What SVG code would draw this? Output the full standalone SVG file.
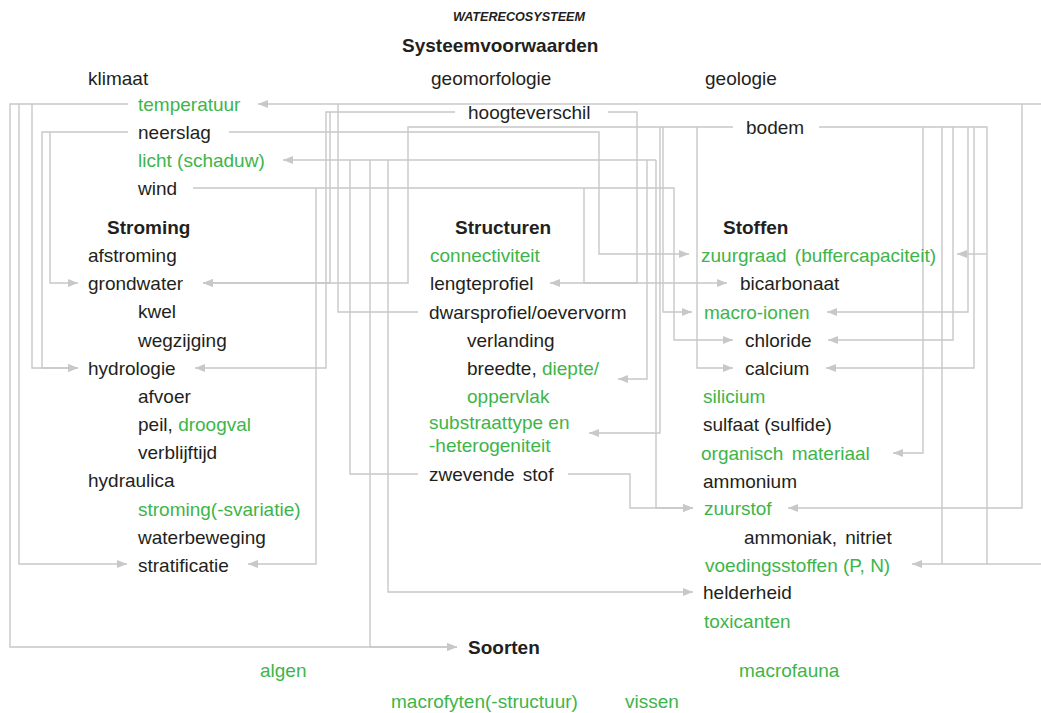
<svg xmlns="http://www.w3.org/2000/svg" width="1041" height="713" viewBox="0 0 1041 713">
<style>
text{font-family:"Liberation Sans",Arial,sans-serif;font-size:19px;fill:#231f20}
.g{fill:#3db54a}
.b{font-weight:bold}
.c path{fill:none;stroke:#c8c8c8;stroke-width:1.4}
</style>
<defs>
<marker id="a" markerUnits="userSpaceOnUse" markerWidth="10" markerHeight="8" refX="10" refY="4" orient="auto">
<path d="M0,0 L10,4 L0,8 z" fill="#c8c8c8"/>
</marker>
</defs>
<rect width="1041" height="713" fill="#fff"/>
<g class="c" id="connectors">
<path d="M128,104 H10 V647 H457" marker-end="url(#a)"/>
<path d="M19,104 V564 H127" marker-end="url(#a)"/>
<path d="M32,104 V368 H78" marker-end="url(#a)"/>
<path d="M1041,104 H258" marker-end="url(#a)"/>
<path d="M338,104 V312 H418"/>
<path d="M1022,104 V508 H788" marker-end="url(#a)"/>
<path d="M128,132 H42 V368 H78" marker-end="url(#a)"/>
<path d="M50,132 V283 H78" marker-end="url(#a)"/>
<path d="M229,132 H599 V254 H689" marker-end="url(#a)"/>
<path d="M656,160 H283" marker-end="url(#a)"/>
<path d="M350,160 V474 H418"/>
<path d="M370,160 V647 H457" marker-end="url(#a)"/>
<path d="M388,160 V592 H693" marker-end="url(#a)"/>
<path d="M647,160 V379 H618" marker-end="url(#a)"/>
<path d="M656,160 V508 H693" marker-end="url(#a)"/>
<path d="M193,188 H674 V340 H733" marker-end="url(#a)"/>
<path d="M316,188 V564 H248" marker-end="url(#a)"/>
<path d="M584,188 V283 H727" marker-end="url(#a)"/>
<path d="M455,112 H326 V368 H195" marker-end="url(#a)"/>
<path d="M330,112 V283 H203" marker-end="url(#a)"/>
<path d="M608,112 H637 V283 H550" marker-end="url(#a)"/>
<path d="M733,127 H408 V283 H203" marker-end="url(#a)"/>
<path d="M663,127 V312 H692" marker-end="url(#a)"/>
<path d="M660,127 V433 H589" marker-end="url(#a)"/>
<path d="M697,127 V368 H733" marker-end="url(#a)"/>
<path d="M819,127 H987 V564 H912" marker-end="url(#a)"/>
<path d="M987,254 H957" marker-end="url(#a)"/>
<path d="M968,127 V312 H827" marker-end="url(#a)"/>
<path d="M953,127 V340 H828" marker-end="url(#a)"/>
<path d="M974,127 V368 H826" marker-end="url(#a)"/>
<path d="M923,127 V453 H893" marker-end="url(#a)"/>
<path d="M942,127 V564"/>
<path d="M1041,564 H987"/>
<path d="M568,474 H630 V508 H693" marker-end="url(#a)"/>
</g>
<g id="title"><text x="453" y="21" class="b" style="font-size:12.6px;font-style:italic">WATERECOSYSTEEM</text></g>
<g id="systeemvoorwaarden"><text x="402" y="52" class="b">Systeemvoorwaarden</text></g>
<g id="klimaat"><text x="88" y="85">klimaat</text></g>
<g id="geomorfologie"><text x="431" y="85">geomorfologie</text></g>
<g id="geologie"><text x="705" y="85">geologie</text></g>
<g id="temperatuur"><text x="138" y="111" class="g">temperatuur</text></g>
<g id="hoogteverschil"><text x="468" y="119">hoogteverschil</text></g>
<g id="neerslag"><text x="138" y="139">neerslag</text></g>
<g id="bodem"><text x="746" y="134">bodem</text></g>
<g id="licht"><text x="138" y="167" class="g">licht (schaduw)</text></g>
<g id="wind"><text x="138" y="195">wind</text></g>
<g id="stroming"><text x="107" y="234" class="b">Stroming</text></g>
<g id="structuren"><text x="455" y="234" class="b">Structuren</text></g>
<g id="stoffen"><text x="723" y="234" class="b">Stoffen</text></g>
<g id="afstroming"><text x="88" y="262">afstroming</text></g>
<g id="connectiviteit"><text x="430" y="262" class="g">connectiviteit</text></g>
<g id="zuurgraad"><text x="701" y="262" class="g" style="word-spacing:3px">zuurgraad (buffercapaciteit)</text></g>
<g id="grondwater"><text x="88" y="290">grondwater</text></g>
<g id="lengteprofiel"><text x="430" y="290">lengteprofiel</text></g>
<g id="bicarbonaat"><text x="740" y="290">bicarbonaat</text></g>
<g id="kwel"><text x="138" y="318">kwel</text></g>
<g id="dwarsprofiel"><text x="429" y="319">dwarsprofiel/oevervorm</text></g>
<g id="macro-ionen"><text x="704" y="319" class="g">macro-ionen</text></g>
<g id="wegzijging"><text x="138" y="347">wegzijging</text></g>
<g id="verlanding"><text x="467" y="347">verlanding</text></g>
<g id="chloride"><text x="745" y="347">chloride</text></g>
<g id="hydrologie"><text x="88" y="375">hydrologie</text></g>
<g id="breedte"><text x="467" y="375">breedte, <tspan class="g">diepte/</tspan></text><text x="467" y="403" class="g">oppervlak</text></g>
<g id="calcium"><text x="745" y="375">calcium</text></g>
<g id="afvoer"><text x="138" y="403">afvoer</text></g>
<g id="silicium"><text x="703" y="403" class="g">silicium</text></g>
<g id="peil"><text x="138" y="431">peil, <tspan class="g">droogval</tspan></text></g>
<g id="substraattype"><text x="429" y="429" class="g">substraattype en</text><text x="429" y="452" class="g">-heterogeniteit</text></g>
<g id="sulfaat"><text x="703" y="431">sulfaat (sulfide)</text></g>
<g id="verblijftijd"><text x="138" y="459">verblijftijd</text></g>
<g id="organisch"><text x="701" y="460" class="g" style="word-spacing:3px">organisch materiaal</text></g>
<g id="hydraulica"><text x="88" y="487">hydraulica</text></g>
<g id="zwevende"><text x="429" y="481" style="word-spacing:3px">zwevende stof</text></g>
<g id="ammonium"><text x="703" y="488">ammonium</text></g>
<g id="stromingvariatie"><text x="138" y="516" class="g">stroming(-svariatie)</text></g>
<g id="zuurstof"><text x="704" y="515" class="g">zuurstof</text></g>
<g id="waterbeweging"><text x="138" y="544">waterbeweging</text></g>
<g id="ammoniak"><text x="744" y="544" style="word-spacing:3px">ammoniak, nitriet</text></g>
<g id="stratificatie"><text x="138" y="572">stratificatie</text></g>
<g id="voedingsstoffen"><text x="705" y="572" class="g">voedingsstoffen (P, N)</text></g>
<g id="helderheid"><text x="703" y="599">helderheid</text></g>
<g id="toxicanten"><text x="704" y="628" class="g">toxicanten</text></g>
<g id="soorten"><text x="468" y="654" class="b">Soorten</text></g>
<g id="algen"><text x="260" y="677" class="g">algen</text></g>
<g id="macrofauna"><text x="739" y="677" class="g">macrofauna</text></g>
<g id="macrofyten"><text x="391" y="708" class="g">macrofyten(-structuur)</text></g>
<g id="vissen"><text x="625" y="708" class="g">vissen</text></g>
</svg>
